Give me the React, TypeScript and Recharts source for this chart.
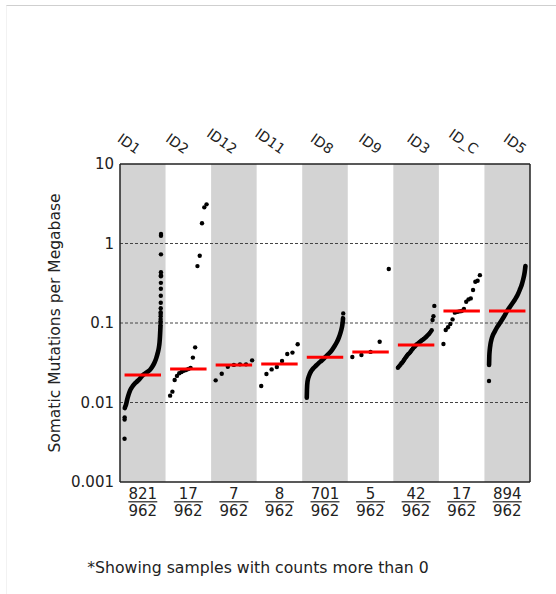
import { ComposedChart, Line, ReferenceArea, ReferenceLine, Scatter, XAxis, YAxis } from 'recharts';

const COHORTS = ['ID1', 'ID2', 'ID12', 'ID11', 'ID8', 'ID9', 'ID3', 'ID_C', 'ID5'];
const MUTATED = [821, 17, 7, 8, 701, 5, 42, 17, 894];
const TOTAL = 962;
const MEDIANS = [0.0222, 0.0264, 0.0297, 0.0306, 0.037, 0.0433, 0.053, 0.1416, 0.142];
const Y_TICKS = [0.001, 0.01, 0.1, 1, 10];
const GRID_LINES = [0.01, 0.1, 1];

// small cohorts: every sample, sorted low to high
const ID2_VALUES = [0.0122, 0.0137, 0.0192, 0.0216, 0.0233, 0.0242, 0.0251, 0.0256, 0.0264, 0.0272, 0.0367, 0.0494, 0.52, 0.70, 1.8, 2.85, 3.11];
const ID12_VALUES = [0.019, 0.023, 0.0282, 0.0297, 0.0302, 0.0302, 0.0339];
const ID11_VALUES = [0.0161, 0.0228, 0.0261, 0.028, 0.0333, 0.0408, 0.0424, 0.054];
const ID9_VALUES = [0.0373, 0.0396, 0.0433, 0.0582, 0.477];
const ID3_VALUES = [
  0.0274, 0.0283, 0.0291, 0.03, 0.0312, 0.0319, 0.0331, 0.0345, 0.0357, 0.0372, 0.0385, 0.0398, 0.0409, 0.0418,
  0.0431, 0.0447, 0.0463, 0.0478, 0.0494, 0.0505, 0.0521, 0.0538, 0.0544, 0.0556, 0.0569, 0.0582, 0.0594, 0.0606,
  0.0617, 0.0628, 0.0641, 0.0656, 0.0672, 0.069, 0.0709, 0.0728, 0.0752, 0.0779, 0.0812, 0.109, 0.122, 0.164,
];
const IDC_VALUES = [0.0544, 0.0817, 0.0883, 0.097, 0.111, 0.135, 0.138, 0.14, 0.1416, 0.15, 0.185, 0.198, 0.204, 0.26, 0.33, 0.34, 0.4];

// large cohorts: [share of ranked samples, mutations per Mb]
const ID1_CURVE = [
  [0.006, 0.0085], [0.02, 0.0089], [0.04, 0.0094], [0.07, 0.0108], [0.1, 0.0121], [0.15, 0.0141], [0.2, 0.0155],
  [0.27, 0.0171], [0.35, 0.0185], [0.42, 0.0199], [0.5, 0.022], [0.57, 0.0232], [0.64, 0.0245], [0.7, 0.0258],
  [0.76, 0.0281], [0.82, 0.0316], [0.87, 0.0362], [0.91, 0.0421], [0.94, 0.0485], [0.96, 0.0571], [0.972, 0.068],
  [0.98, 0.08], [0.985, 0.09],
];
const ID1_OUTLIERS = [
  [0, 0.0035], [0.0015, 0.0061], [0.003, 0.0065], [0.986, 0.094], [0.987, 0.1], [0.988, 0.105], [0.989, 0.112],
  [0.99, 0.122], [0.991, 0.13], [0.992, 0.137], [0.993, 0.153], [0.994, 0.18], [0.995, 0.22], [0.996, 0.27],
  [0.997, 0.32], [0.9975, 0.386], [0.998, 0.4], [0.9985, 0.434], [0.999, 0.73], [0.9995, 1.25], [1, 1.32],
];
const ID8_CURVE = [
  [0, 0.0115], [0.005, 0.0144], [0.02, 0.0183], [0.07, 0.0222], [0.12, 0.0248], [0.18, 0.0269], [0.25, 0.029],
  [0.32, 0.0311], [0.41, 0.0338], [0.5, 0.037], [0.6, 0.041], [0.69, 0.0457], [0.76, 0.051], [0.83, 0.058],
  [0.88, 0.0655], [0.92, 0.074], [0.95, 0.083], [0.975, 0.094], [0.99, 0.108], [0.995, 0.115],
];
const ID8_OUTLIERS = [[1, 0.132]];
const ID5_CURVE = [
  [0.002, 0.0296], [0.008, 0.038], [0.02, 0.0457], [0.04, 0.054], [0.064, 0.061], [0.1, 0.069], [0.157, 0.078],
  [0.22, 0.088], [0.295, 0.099], [0.4, 0.118], [0.5, 0.142], [0.6, 0.166], [0.705, 0.195], [0.78, 0.223],
  [0.843, 0.26], [0.9, 0.305], [0.934, 0.347], [0.96, 0.39], [0.98, 0.44], [0.993, 0.49], [1, 0.52],
];
const ID5_OUTLIERS = [[0, 0.0186]];

const ranked = (vals: number[]) => vals.map((v, k) => [k / (vals.length - 1), v]);
const place = (col: number, pairs: number[][]) => pairs.map(([p, v]) => ({ x: col + 0.1 + 0.8 * p, y: v }));

const curves = [place(0, ID1_CURVE), place(4, ID8_CURVE), place(8, ID5_CURVE)];
const dots = [
  ...place(0, ID1_OUTLIERS),
  ...place(1, ranked(ID2_VALUES)),
  ...place(2, ranked(ID12_VALUES)),
  ...place(3, ranked(ID11_VALUES)),
  ...place(4, ID8_OUTLIERS),
  ...place(5, ranked(ID9_VALUES)),
  ...place(6, ranked(ID3_VALUES)),
  ...place(7, ranked(IDC_VALUES)),
  ...place(8, ID5_OUTLIERS),
];
const medianLines = MEDIANS.map((m, i) => [{ x: i + 0.1, y: m }, { x: i + 0.9, y: m }]);
const colTicks = COHORTS.map((_, i) => i + 0.5);

// cohort names sit on a slightly wider pitch than the columns, end-anchored
const TopTick = ({ x, y, payload }: any) => {
  const i = Math.round(payload.value - 0.5);
  const ex = x - 6.8 + 2.7 * i;
  const ey = y - 9.5;
  return (
    <text x={ex} y={ey} textAnchor="end" transform={`rotate(35 ${ex} ${ey})`} fontSize={14} fill="#222">
      {COHORTS[i]}
    </text>
  );
};

const BottomTick = ({ x, y, payload }: any) => {
  const i = Math.round(payload.value - 0.5);
  return (
    <g fontSize={15} fill="#222">
      <text x={x} y={y + 17.3} textAnchor="middle">{MUTATED[i]}</text>
      <line x1={x - 14.5} x2={x + 14.5} y1={y + 19.8} y2={y + 19.8} stroke="#222" strokeWidth={1.2} />
      <text x={x} y={y + 34} textAnchor="middle">{TOTAL}</text>
    </g>
  );
};

const frame = { stroke: '#222', strokeWidth: 1.5 };

export default function App() {
  return (
    <div style={{ position: 'absolute', left: 0, top: 0, width: 556, height: 594, background: '#fff', fontFamily: '"DejaVu Sans", sans-serif' }}>
      <div style={{ position: 'absolute', left: 6, top: 5, width: 550, height: 589, borderTop: '1px solid #cfcfcf', borderLeft: '1px solid #f2f2f2' }} />
      <ComposedChart width={556} height={594} margin={{ top: 134, right: 26, bottom: 62, left: 60 }}>
        <XAxis
          type="number"
          dataKey="x"
          domain={[0, 9]}
          ticks={colTicks}
          allowDataOverflow
          height={50}
          tickLine={false}
          tickSize={0}
          tickMargin={0}
          axisLine={frame}
          tick={BottomTick}
          interval={0}
        />
        <XAxis
          xAxisId="top"
          orientation="top"
          type="number"
          dataKey="x"
          domain={[0, 9]}
          ticks={colTicks}
          allowDataOverflow
          height={30}
          tickLine={false}
          tickSize={0}
          tickMargin={0}
          axisLine={frame}
          tick={TopTick}
          interval={0}
        />
        <YAxis
          type="number"
          dataKey="y"
          scale="log"
          domain={[0.001, 10]}
          ticks={Y_TICKS}
          allowDataOverflow
          width={60}
          tickLine={false}
          tickSize={0}
          tickMargin={6}
          axisLine={frame}
          tick={{ fontSize: 15, fill: '#222' }}
          tickFormatter={(v: number) => String(v)}
          interval={0}
        />
        {COHORTS.map((c, i) =>
          i % 2 === 0 ? (
            <ReferenceArea key={c} x1={i} x2={i + 1} y1={0.001} y2={10} fill="#d3d3d3" fillOpacity={1} stroke="none" />
          ) : null
        )}
        {GRID_LINES.map((g) => (
          <ReferenceLine key={g} y={g} stroke="#444" strokeWidth={1} strokeDasharray="3 2" />
        ))}
        <ReferenceLine x={9} stroke="#222" strokeWidth={1.5} />
        {curves.map((pts, k) => (
          <Line
            key={k}
            data={pts}
            dataKey="y"
            type="monotone"
            stroke="#000"
            strokeWidth={4.6}
            strokeLinecap="round"
            dot={false}
            activeDot={false}
            isAnimationActive={false}
          />
        ))}
        <Scatter
          data={dots}
          dataKey="y"
          fill="#000"
          isAnimationActive={false}
          shape={(p: any) => <circle cx={p.cx} cy={p.cy} r={2.2} fill="#000" />}
        />
        {medianLines.map((seg, i) => (
          <Line
            key={`m${i}`}
            xAxisId="top"
            data={seg}
            dataKey="y"
            type="linear"
            stroke="#ff0000"
            strokeWidth={3}
            dot={false}
            activeDot={false}
            isAnimationActive={false}
            zIndex={700}
          />
        ))}
      </ComposedChart>
      <div
        style={{
          position: 'absolute',
          left: 55,
          top: 323,
          transform: 'translate(-50%, -50%) rotate(-90deg)',
          whiteSpace: 'nowrap',
          fontSize: 15.5,
          color: '#222',
        }}
      >
        Somatic Mutations per Megabase
      </div>
      <div
        style={{
          position: 'absolute',
          left: 258,
          top: 567,
          transform: 'translate(-50%, -50%)',
          whiteSpace: 'nowrap',
          fontSize: 15.7,
          color: '#222',
        }}
      >
        *Showing samples with counts more than 0
      </div>
    </div>
  );
}
